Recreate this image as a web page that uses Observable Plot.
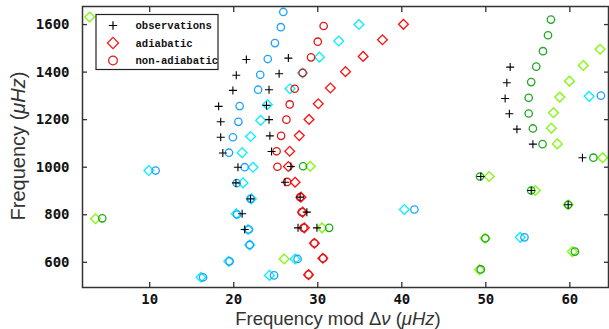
<!DOCTYPE html>
<html><head><meta charset="utf-8">
<script src="https://cdn.jsdelivr.net/npm/d3@7"></script>
<script src="https://cdn.jsdelivr.net/npm/@observablehq/plot@0.6"></script>
<style>body{margin:0;background:#fff}</style>
</head><body><div id="chart"></div>
<script>
// observations (frequency mod Δν, frequency)
const obsX = [21.5,26.5,20.3,25.4,19.9,24.2,18.2,23.9,18.45,24.2,18.45,24.3,18.7,24.5,20.5,26.8,20.26,26.1,22.0,27.9,21.0,28.7,21.3,27.65,29.9,52.9,52.5,52.3,52.8,53.7,55.6,61.5,49.4,55.4,59.8];
const obsY = [1453,1459,1387,1393,1323,1326,1256,1260,1191,1200,1126,1132,1060,1066,1000,1003,934,937,867,874,804,811,738,745,745,1421,1355,1289,1225,1160,1097,1040,961,902,842];
// l=0 adiabatic / non-adiabatic
const l0AdX = [40.2,37.7,35.4,33.3,31.5,30.06,28.96,27.8,26.66,26.5,27.3,28.0,28.2,28.4,29.6,30.6,28.9];
const l0AdY = [1601,1536,1466,1402,1333,1267,1201,1133,1067,1003,937,874,811,745,680,617,548];
const l0NaX = [30.7,30.0,29.2,28.2,27.25,26.66,26.27,25.64,25.1,25.2,26.35,27.9,28.1,28.3,29.6,30.65,28.9];
const l0NaY = [1594,1528,1462,1397,1330,1264,1200,1132,1067,1002,938,874,811,745,680,617,548];
// l=1 adiabatic / non-adiabatic
const l1AdX = [16.1,24.25,19.4,27.3,21.9,21.7,20.3,40.3,22.1,21.1,9.9,22.3,21.0,22.0,23.2,24.0,62.3,26.7,28.2,30.2,32.5,34.9,54.1];
const l1AdY = [537,545,604,614,673,738,804,822,867,934,986,1000,1061,1129,1197,1263,1298,1330,1396,1463,1531,1600,705];
const l1NaX = [16.35,24.8,19.5,27.6,21.9,21.8,20.4,41.5,22.0,20.35,10.7,21.3,19.43,19.9,20.55,20.7,63.7,22.9,23.15,24.05,24.9,25.6,25.9,54.6];
const l1NaY = [537,545,604,614,673,738,801,822,867,933,986,1000,1061,1126,1191,1257,1301,1326,1389,1455,1522,1589,1653,705];
// l=2 adiabatic / non-adiabatic
const l2AdX = [2.85,63.6,61.6,59.95,58.8,58.05,57.8,58.5,63.9,50.4,55.9,59.8,49.9,60.3,49.25,29.1,30.5,26.0,3.55];
const l2AdY = [1632,1496,1428,1362,1295,1229,1164,1098,1040,961,902,842,701,645,569,1004,745,614,783];
const l2NaX = [57.75,57.4,56.8,56.0,55.4,55.1,55.1,55.6,56.75,62.8,49.3,55.4,59.8,49.95,60.6,49.4,28.25,31.35,4.35];
const l2NaY = [1621,1555,1488,1423,1358,1292,1226,1163,1097,1040,961,902,842,701,645,570,1004,745,785];
const xTicks = [10,20,30,40,50,60];
const yTicks = [600,800,1000,1200,1400,1600];
const legendLabels = ["observations","adiabatic","non-adiabatic"];

const pts = (xs, ys) => xs.map((x, i) => ({x, y: ys[i]}));
const ax = "#333";
const tickFont = {fontFamily: "DejaVu Sans Mono", fontWeight: "bold", fontSize: 14};
const fmt = d => String(d);

const chart = Plot.plot({
  width: 609, height: 329,
  marginLeft: 82, marginRight: 1, marginTop: 6, marginBottom: 42,
  style: {background: "#fff", color: ax, overflow: "visible"},
  x: {domain: [2, 64.6], ticks: xTicks, label: null},
  y: {domain: [494, 1676], ticks: yTicks, label: null},
  marks: [
    Plot.dot(pts(l2AdX, l2AdY), {x: "x", y: "y", symbol: "diamond2", r: 4.4, stroke: "#7CFC00", strokeWidth: 1.3, fill: "none"}),
    Plot.dot(pts(l2NaX, l2NaY), {x: "x", y: "y", symbol: "circle", r: 3.7, stroke: "#22A822", strokeWidth: 1.3, fill: "none"}),
    Plot.dot(pts(l1AdX, l1AdY), {x: "x", y: "y", symbol: "diamond2", r: 4.4, stroke: "#00F0FF", strokeWidth: 1.3, fill: "none"}),
    Plot.dot(pts(l1NaX, l1NaY), {x: "x", y: "y", symbol: "circle", r: 3.7, stroke: "#1EA0FF", strokeWidth: 1.3, fill: "none"}),
    Plot.dot(pts(l0AdX, l0AdY), {x: "x", y: "y", symbol: "diamond2", r: 4.4, stroke: "#FF1010", strokeWidth: 1.3, fill: "none"}),
    Plot.dot(pts(l0NaX, l0NaY), {x: "x", y: "y", symbol: "circle", r: 3.7, stroke: "#E01818", strokeWidth: 1.3, fill: "none"}),
    Plot.dot(pts(obsX, obsY), {x: "x", y: "y", symbol: "plus", r: 2.7, stroke: "#000", strokeWidth: 1.1}),
    Plot.axisX({anchor: "bottom", ticks: xTicks, tickFormat: fmt, tickSize: 0, tickPadding: 7, label: null, ...tickFont, fill: "#111"}),
    Plot.axisX({anchor: "bottom", ticks: xTicks, tickSize: -5, text: null, label: null, stroke: ax, strokeWidth: 1.3}),
    Plot.axisX({anchor: "top", ticks: xTicks, tickSize: -5, text: null, label: null, stroke: ax, strokeWidth: 1.3}),
    Plot.axisY({anchor: "left", ticks: yTicks, tickFormat: fmt, tickSize: 0, tickPadding: 13, label: null, ...tickFont, fill: "#111"}),
    Plot.axisY({anchor: "left", ticks: yTicks, tickSize: -5, text: null, label: null, stroke: ax, strokeWidth: 1.3}),
    Plot.axisY({anchor: "right", ticks: yTicks, tickSize: -5, text: null, label: null, stroke: ax, strokeWidth: 1.3}),
    Plot.frame({stroke: ax, strokeWidth: 1.5})
  ]
});
document.getElementById("chart").appendChild(chart);

// axis titles and legend
const svg = d3.select(chart);
const xt = svg.append("text").attr("x", 338).attr("y", 324.5).attr("text-anchor", "middle")
  .attr("font-family", "Liberation Sans").attr("font-size", 18.5).attr("fill", "#333");
xt.append("tspan").text("Frequency mod Δ");
xt.append("tspan").attr("font-style", "italic").text("ν");
xt.append("tspan").text(" (");
xt.append("tspan").attr("font-style", "italic").text("μHz");
xt.append("tspan").text(")");
const yt = svg.append("text").attr("transform", "translate(25,146) rotate(-90)").attr("text-anchor", "middle")
  .attr("font-family", "Liberation Sans").attr("font-size", 20).attr("fill", "#333");
yt.append("tspan").text("Frequency (");
yt.append("tspan").attr("font-style", "italic").text("μHz");
yt.append("tspan").text(")");

const lg = svg.append("g");
lg.append("rect").attr("x", 96).attr("y", 14.5).attr("width", 122).attr("height", 55)
  .attr("fill", "#fff").attr("stroke", "#222").attr("stroke-width", 1.2);
const sym = [
  {d: d3.symbol(d3.symbolPlus, 25)(), stroke: "#000"},
  {d: d3.symbol(d3.symbolDiamond2, 80)(), stroke: "#FF1010"},
  {d: d3.symbol(d3.symbolCircle, 60)(), stroke: "#E01818"}
];
legendLabels.forEach((t, i) => {
  const yy = 25.5 + i * 17.5;
  lg.append("path").attr("d", sym[i].d).attr("transform", `translate(113,${yy})`)
    .attr("fill", "none").attr("stroke", sym[i].stroke).attr("stroke-width", 1.2);
  lg.append("text").attr("x", 135.5).attr("y", yy).attr("dy", "0.35em").attr("text-anchor", "start")
    .attr("font-family", "Liberation Mono").attr("font-weight", "bold").attr("font-size", 10.6)
    .attr("fill", "#111").text(t);
});
</script></body></html>
